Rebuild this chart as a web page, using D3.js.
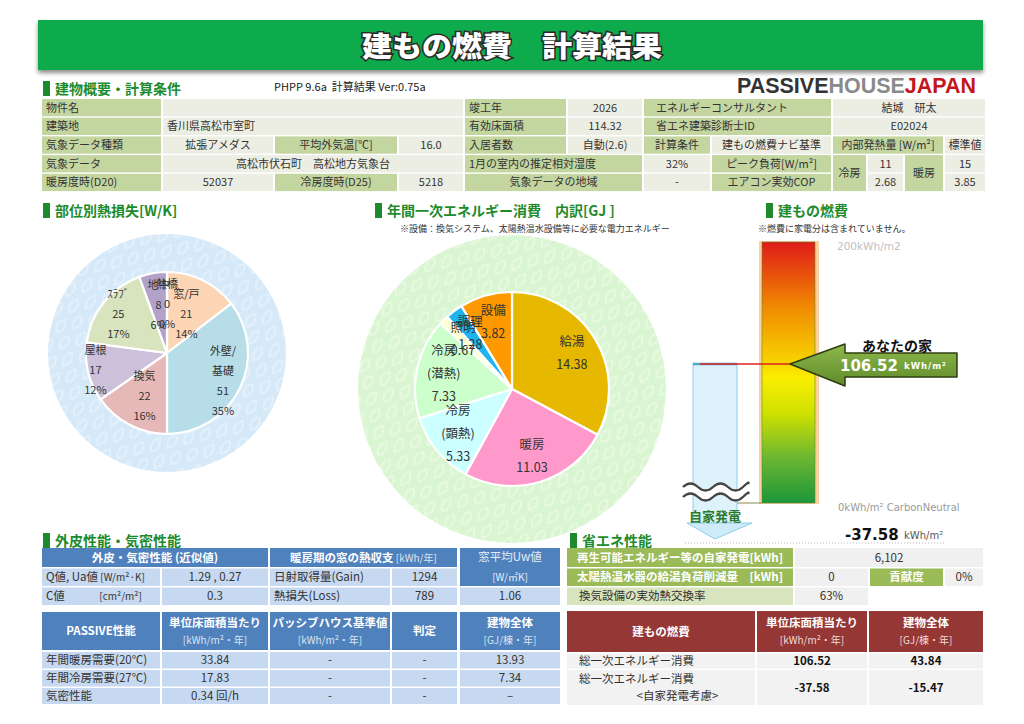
<!DOCTYPE html>
<html lang="ja">
<head>
<meta charset="utf-8">
<title>建もの燃費 計算結果</title>
<script src="https://cdn.jsdelivr.net/npm/d3@7"></script>
<style>
  body { margin: 0; background: #fff; }
  svg { display: block; font-family: "Noto Sans CJK JP", "Noto Sans", sans-serif; }
  text { white-space: pre; }
</style>
</head>
<body>
<svg id="chart" width="1024" height="724"></svg>
<script>
// ---- values ----
const lossNames = ["窓/戸", "外壁/\n基礎", "換気", "屋根", "ｽﾗﾌﾞ", "地中", "熱橋"];
const lossValues = [21, 51, 22, 17, 25, 8, 0];
const lossShares = ["14%", "35%", "16%", "12%", "17%", "6%", "0%"];

const energyNames = ["給湯", "暖房", "冷房\n(顕熱)", "冷房\n(潜熱)", "照明", "調理", "設備"];
const energyValues = [14.38, 11.03, 5.33, 7.33, 0.67, 1.28, 3.82];

const gaugeRange = [0, 200];
const houseValue = 106.52;
const netValue = -37.58;

const siteLeftText = [
  ["物件名", ""],
  ["建築地", "香川県高松市室町"],
  ["気象データ種類", "拡張アメダス", "平均外気温[℃]", "16.0"],
  ["気象データ", "高松市伏石町　高松地方気象台"],
  ["暖房度時(D20)", "52037", "冷房度時(D25)", "5218"]
];
const siteRightText = [
  ["竣工年", "2026", "エネルギーコンサルタント", "結城　研太"],
  ["有効床面積", "114.32", "省エネ建築診断士ID", "E02024"],
  ["入居者数", "自動(2.6)", "計算条件", "建もの燃費ナビ基準", "内部発熱量 [W/m²]", "標準値"],
  ["1月の室内の推定相対湿度", "32%", "ピーク負荷[W/m²]", "冷房", "11", "暖房", "15"],
  ["気象データの地域", "-", "エアコン実効COP", "2.68", "3.85"]
];
const shellText = [
  ["外皮・気密性能 (近似値)", "暖房期の窓の熱収支| [kWh/年]", "窓平均Uw値\n|[W/㎡K]"],
  ["Q値, Ua値| [W/m²·K]", "1.29 , 0.27", "日射取得量(Gain)", "1294"],
  ["C値|　　　  [cm²/m²]", "0.3", "熱損失(Loss)", "789", "1.06"]
];
const passiveText = [
  ["PASSIVE性能", "単位床面積当たり\n|[kWh/m²・年]", "パッシブハウス基準値\n|[kWh/m²・年]", "判定", "建物全体\n|[GJ/棟・年]"],
  ["年間暖房需要(20℃)", "33.84", "-", "-", "13.93"],
  ["年間冷房需要(27℃)", "17.83", "-", "-", "7.34"],
  ["気密性能", "0.34 回/h", "-", "-", "–"]
];
const saveText = [
  ["再生可能エネルギー等の自家発電[kWh]", "6,102"],
  ["太陽熱温水器の給湯負荷削減量　[kWh]", "0", "貢献度", "0%"],
  ["換気設備の実効熱交換率", "63%"]
];
const fuelText = [
  ["建もの燃費", "単位床面積当たり\n|[kWh/m²・年]", "建物全体\n|[GJ/棟・年]"],
  ["総一次エネルギー消費", "106.52", "43.84"],
  ["総一次エネルギー消費\n　　　　　<自家発電考慮>", "-37.58", "-15.47"]
];

// ---- styles ----
const lossColors = ["#fcd5b4", "#b7dee8", "#e6b9b8", "#ccc0da", "#d7e4bd", "#b3a2c7", "#93cddd"];
const lossLabelK = [0.54, 0.77, 0.6, 0.91, 0.77, 0.6, 0.6];
const energyColors = ["#e6b800", "#ff99cc", "#ccffff", "#ccffcc", "#ffffcc", "#1fb4ee", "#ff9900"];

const cellStyle = {
  g:  { fill: "#c4d6a0", color: "#333" },
  v:  { fill: "#eceee4", color: "#333" },
  bh: { fill: "#4f81bd", color: "#fff", bold: true, sub: "#dce6f2" },
  bu: { fill: "#4f81bd", color: "#e4ecf7", sub: "#e4ecf7" },
  b:  { fill: "#c6d9f1", color: "#333", sub: "#333" },
  gg: { fill: "#9bbb59", color: "#fff", bold: true },
  gl: { fill: "#d7e4bd", color: "#333" },
  gv: { fill: "#f0f0f0", color: "#333" },
  rh: { fill: "#953735", color: "#fff", bold: true, sub: "#f2dcdb" },
  rv: { fill: "#f2f2f2", color: "#333" },
  rb: { fill: "#f2f2f2", color: "#111", bold: true }
};

const svg = d3.select("#chart");
const defs = svg.append("defs");

// drop shadow for the title band
const sh = defs.append("filter").attr("id", "shadow").attr("x", "-5%").attr("y", "-20%").attr("width", "110%").attr("height", "160%");
sh.append("feDropShadow").attr("dx", 0).attr("dy", 3).attr("stdDeviation", 2).attr("flood-color", "#000").attr("flood-opacity", 0.45);

// leafy background patterns behind the pies
function leafPattern(id, base, light) {
  const p = defs.append("pattern").attr("id", id).attr("width", 17).attr("height", 17)
    .attr("patternUnits", "userSpaceOnUse").attr("patternTransform", "rotate(-12)");
  p.append("rect").attr("width", 17).attr("height", 17).attr("fill", base);
  p.append("path").attr("d", "M3,14 Q3,3 14,3 Q14,14 3,14Z")
    .attr("fill", "none").attr("stroke", light).attr("stroke-width", 1.6);
}
leafPattern("leafBlue", "#d5e9f8", "#e6f2fc");
leafPattern("leafGreen", "#daf5d1", "#eafae4");

// ---- title ----
svg.append("rect").attr("x", 38).attr("y", 20).attr("width", 945).attr("height", 50)
  .attr("fill", "#0aab4c").attr("filter", "url(#shadow)");
svg.append("text").attr("x", 512).attr("y", 57).attr("text-anchor", "middle")
  .attr("font-size", 28).attr("font-weight", 900).attr("fill", "#fff")
  .attr("stroke", "#2a2a2a").attr("stroke-width", 3).attr("paint-order", "stroke")
  .attr("textLength", 300).attr("lengthAdjust", "spacingAndGlyphs")
  .text("建もの燃費　計算結果");

function secHead(x, y, label) {
  svg.append("rect").attr("x", x).attr("y", y - 13).attr("width", 7).attr("height", 15).attr("fill", "#1d8b2d");
  svg.append("text").attr("x", x + 12).attr("y", y).attr("font-size", 14).attr("font-weight", "bold")
    .attr("fill", "#1d8b2d").text(label);
}

secHead(43, 94, "建物概要・計算条件");
svg.append("text").attr("x", 274).attr("y", 91).attr("font-size", 11).attr("fill", "#222")
  .text("PHPP 9.6a  計算結果 Ver:0.75a");

// logo
const logo = svg.append("text").attr("x", 737).attr("y", 93).attr("font-family", "'Liberation Sans', Arial, sans-serif")
  .attr("font-size", 22).attr("font-weight", "bold").attr("textLength", 239).attr("lengthAdjust", "spacingAndGlyphs");
logo.append("tspan").attr("fill", "#333").text("PASSIVE");
logo.append("tspan").attr("fill", "#8a8a8a").text("HOUSE");
logo.append("tspan").attr("fill", "#c4161c").text("JAPAN");

// ---- table helper ----
function drawTable(cols, rows, spec, texts, size) {
  const g = svg.append("g");
  spec.forEach((row, ri) => row.forEach((s, ci) => {
    const [c0, c1, key, align, rspan = 1, lh = 17] = s;
    const st = cellStyle[key];
    const x0 = cols[c0][0], x1 = cols[c1 - 1][1];
    const y0 = rows[ri][0], y1 = rows[ri + rspan - 1][1];
    g.append("rect").attr("x", x0).attr("y", y0).attr("width", x1 - x0).attr("height", y1 - y0).attr("fill", st.fill);
    const lines = String(texts[ri][ci]).split("\n");
    const tx = align === "c" ? (x0 + x1) / 2 : x0 + (align === "L" ? 12 : 4);
    const top = (y0 + y1) / 2 - (lines.length - 1) * lh / 2;
    const t = g.append("text").attr("text-anchor", align === "c" ? "middle" : "start")
      .attr("font-size", size).attr("fill", st.color);
    lines.forEach((ln, li) => {
      const line = t.append("tspan").attr("x", tx).attr("y", top + li * lh + size * 0.36);
      ln.split("|").forEach((part, pi) => {
        if (!part) return;
        const sp = line.append("tspan").text(part);
        if (pi % 2 === 0) sp.attr("font-weight", st.bold ? "bold" : "normal");
        else sp.attr("font-weight", "normal").attr("font-size", size - 1.5).attr("fill", st.sub || st.color);
      });
    });
  }));
}

// ---- building info tables ----
const infoRows = d3.range(5).map(i => [99 + i * 18.7, 99 + i * 18.7 + 17.3]);
drawTable([[42, 161], [163, 273], [275, 397], [399, 463]], infoRows, [
  [[0, 1, "g", "l"], [1, 4, "v", "l"]],
  [[0, 1, "g", "l"], [1, 4, "v", "l"]],
  [[0, 1, "g", "l"], [1, 2, "v", "c"], [2, 3, "g", "c"], [3, 4, "v", "c"]],
  [[0, 1, "g", "l"], [1, 4, "v", "c"]],
  [[0, 1, "g", "l"], [1, 2, "v", "c"], [2, 3, "g", "c"], [3, 4, "v", "c"]]
], siteLeftText, 11);

drawTable([[465, 566], [568, 642], [644, 710], [712, 831], [833, 866], [868, 903], [905, 943], [945, 985]], infoRows, [
  [[0, 1, "g", "l"], [1, 2, "v", "c"], [2, 4, "g", "L"], [4, 8, "v", "c"]],
  [[0, 1, "g", "l"], [1, 2, "v", "c"], [2, 4, "g", "L"], [4, 8, "v", "c"]],
  [[0, 1, "g", "l"], [1, 2, "v", "c"], [2, 3, "g", "c"], [3, 4, "v", "c"], [4, 7, "g", "c"], [7, 8, "v", "c"]],
  [[0, 2, "g", "l"], [2, 3, "v", "c"], [3, 4, "g", "c"], [4, 5, "g", "c", 2], [5, 6, "v", "c"], [6, 7, "g", "c", 2], [7, 8, "v", "c"]],
  [[0, 2, "g", "c"], [2, 3, "v", "c"], [3, 4, "g", "c"], [5, 6, "v", "c"], [7, 8, "v", "c"]]
], siteRightText, 11);

// ---- section 2 headings ----
secHead(43, 216, "部位別熱損失[W/K]");
secHead(375, 216, "年間一次エネルギー消費　内訳[GJ ]");
svg.append("text").attr("x", 400).attr("y", 232).attr("font-size", 9).attr("fill", "#333")
  .text("※設備：換気システム、太陽熱温水設備等に必要な電力エネルギー");
secHead(766, 216, "建もの燃費");
svg.append("text").attr("x", 758).attr("y", 232).attr("font-size", 9).attr("fill", "#333")
  .text("※燃費に家電分は含まれていません。");

// ---- pies ----
function drawPie(cx, cy, r, bgR, bgFill, values, colors, linesFor, kFor, step, size) {
  svg.append("circle").attr("cx", cx).attr("cy", cy).attr("r", bgR).attr("fill", bgFill);
  const g = svg.append("g").attr("transform", `translate(${cx},${cy})`);
  const arcs = d3.pie().sort(null).value(d => d)(values);
  const arc = d3.arc().innerRadius(0).outerRadius(r);
  g.selectAll("path").data(arcs).join("path")
    .attr("d", arc).attr("fill", (d, i) => colors[i])
    .attr("stroke", "#fff").attr("stroke-width", 2.2).attr("stroke-linejoin", "round");
  arcs.forEach((a, i) => {
    const mid = (a.startAngle + a.endAngle) / 2;
    const R = r * kFor(i);
    const x = R * Math.sin(mid), y = -R * Math.cos(mid);
    const lines = linesFor(i);
    const t = g.append("text").attr("text-anchor", "middle").attr("font-size", size).attr("fill", "#333");
    const y0 = y - (lines.length - 1) * step / 2 + size * 0.36;
    lines.forEach((ln, li) => t.append("tspan").attr("x", x).attr("y", y0 + li * step).text(ln));
  });
}

drawPie(167, 353, 81, 119, "url(#leafBlue)", lossValues, lossColors,
  i => lossNames[i].split("\n").concat([String(lossValues[i]), lossShares[i]]),
  i => lossLabelK[i], 20, 11);

drawPie(512, 389, 97, 154, "url(#leafGreen)", energyValues, energyColors,
  i => energyNames[i].split("\n").concat([energyValues[i].toFixed(2)]),
  () => 0.72, 23, 12.5);

// ---- fuel gauge ----
const yG = d3.scaleLinear().domain(gaugeRange).range([503, 242]);
const yH = yG(houseValue);

const gg = defs.append("linearGradient").attr("id", "gaugeGrad").attr("x1", 0).attr("y1", 0).attr("x2", 0).attr("y2", 1);
[["0%", "#e01a1a"], ["25%", "#f08a00"], ["45%", "#f7d000"], ["52%", "#fbee00"], ["66%", "#cde000"], ["82%", "#6fb830"], ["100%", "#1c963a"]]
  .forEach(([o, c]) => gg.append("stop").attr("offset", o).attr("stop-color", c));

const ag = defs.append("linearGradient").attr("id", "arrowGrad").attr("x1", 0).attr("y1", 0).attr("x2", 0).attr("y2", 1);
ag.append("stop").attr("offset", "0%").attr("stop-color", "#8fb94c");
ag.append("stop").attr("offset", "100%").attr("stop-color", "#5e8a2a");

svg.append("rect").attr("x", 759).attr("y", yG(gaugeRange[1]) - 1).attr("width", 60)
  .attr("height", yG(gaugeRange[0]) - yG(gaugeRange[1]) + 2).attr("fill", "#fbd19c");
svg.append("rect").attr("x", 762).attr("y", yG(gaugeRange[1])).attr("width", 53)
  .attr("height", yG(gaugeRange[0]) - yG(gaugeRange[1])).attr("fill", "url(#gaugeGrad)")
  .attr("stroke", "#5c8a3a").attr("stroke-width", 0.6);

svg.append("text").attr("x", 837).attr("y", yG(gaugeRange[1]) + 8).attr("font-size", 10.5).attr("fill", "#c0c0c0")
  .attr("font-family", "'DejaVu Sans', sans-serif").text(gaugeRange[1] + "kWh/m2");
svg.append("text").attr("x", 838).attr("y", yG(gaugeRange[0]) + 8).attr("font-size", 10).attr("fill", "#999")
  .attr("font-family", "'DejaVu Sans', sans-serif").text(gaugeRange[0] + "kWh/m² CarbonNeutral");

// own generation column (drawn downward from your house line)
svg.append("rect").attr("x", 693).attr("y", yH).attr("width", 44).attr("height", 523 - yH)
  .attr("fill", "#ddf2fb").attr("stroke", "#8dcde8").attr("stroke-width", 1);
svg.append("line").attr("x1", 737).attr("x2", 762).attr("y1", yG(0)).attr("y2", yG(0))
  .attr("stroke", "#8a8a50").attr("stroke-width", 1);
svg.append("line").attr("x1", 693).attr("x2", 737).attr("y1", yH).attr("y2", yH)
  .attr("stroke", "#4bacc6").attr("stroke-width", 2.5);

function wave(y) {
  return `M683,${y} Q690.5,${y - 7} 698,${y} T713,${y} T728,${y} T743,${y} T748,${y - 3}`;
}
svg.append("path").attr("d", wave(492)).attr("fill", "none").attr("stroke", "#fff").attr("stroke-width", 9);
[487, 497].forEach(y => svg.append("path").attr("d", wave(y)).attr("fill", "none")
  .attr("stroke", "#444").attr("stroke-width", 2.2));

svg.append("polygon").attr("points", "687,523 752,523 715,539")
  .attr("fill", "#cdebf8").attr("stroke", "#8dcde8");
svg.append("text").attr("x", 715).attr("y", 521).attr("text-anchor", "middle")
  .attr("font-size", 13).attr("font-weight", "bold").attr("fill", "#2b7a2b").text("自家発電");

svg.append("line").attr("x1", 700).attr("x2", 792).attr("y1", yH).attr("y2", yH)
  .attr("stroke", "#e02020").attr("stroke-width", 1.6);

// "your house" arrow
const arrowPts = [[790, 0], [845, -20], [845, -11], [957, -11], [957, 13], [845, 13], [845, 22]];
svg.append("polygon").attr("points", arrowPts.map(p => [p[0], yH + p[1]].join(",")).join(" "))
  .attr("fill", "url(#arrowGrad)").attr("stroke", "#2f3f10").attr("stroke-width", 1.5)
  .attr("stroke-linejoin", "round");
svg.append("text").attr("x", 897).attr("y", yH - 13).attr("text-anchor", "middle")
  .attr("font-size", 14).attr("font-weight", "bold").attr("fill", "#111").text("あなたの家");
svg.append("text").attr("x", 840).attr("y", yH + 7).attr("font-family", "'DejaVu Sans', sans-serif")
  .attr("font-size", 15).attr("font-weight", "bold").attr("fill", "#fff").text(houseValue.toFixed(2));
svg.append("text").attr("x", 904).attr("y", yH + 5).attr("font-family", "'DejaVu Sans', sans-serif")
  .attr("font-size", 8.5).attr("font-weight", "bold").attr("fill", "#fff").attr("letter-spacing", 1).text("kWh/m²");

// net figure
svg.append("line").attr("x1", 685).attr("x2", 945).attr("y1", 543).attr("y2", 543)
  .attr("stroke", "#bbb").attr("stroke-dasharray", "1,2");
svg.append("text").attr("x", 845).attr("y", 540).attr("font-family", "'DejaVu Sans', sans-serif")
  .attr("font-size", 15).attr("font-weight", "bold").attr("fill", "#111").text(netValue.toFixed(2));
svg.append("text").attr("x", 904).attr("y", 539).attr("font-family", "'DejaVu Sans', sans-serif")
  .attr("font-size", 10).attr("fill", "#555").text("kWh/m²");

// ---- bottom tables ----
secHead(43, 546, "外皮性能・気密性能");
secHead(570, 546, "省エネ性能");

const blueCols = [[42, 160], [162, 268], [270, 390], [392, 457], [460, 560]];
drawTable(blueCols, [[548, 567], [568.5, 586], [587.5, 605]], [
  [[0, 2, "bh", "c"], [2, 4, "bh", "c"], [4, 5, "bu", "c", 2, 20]],
  [[0, 1, "b", "l"], [1, 2, "b", "c"], [2, 3, "b", "l"], [3, 4, "b", "c"]],
  [[0, 1, "b", "l"], [1, 2, "b", "c"], [2, 3, "b", "l"], [3, 4, "b", "c"], [4, 5, "b", "c"]]
], shellText, 11.5);

drawTable(blueCols, [[612, 650], [652, 668.5], [670, 686.5], [688, 704]], [
  [[0, 1, "bh", "c"], [1, 2, "bh", "c"], [2, 3, "bh", "c"], [3, 4, "bh", "c"], [4, 5, "bh", "c"]],
  [[0, 1, "b", "l"], [1, 2, "b", "c"], [2, 3, "b", "c"], [3, 4, "b", "c"], [4, 5, "b", "c"]],
  [[0, 1, "b", "l"], [1, 2, "b", "c"], [2, 3, "b", "c"], [3, 4, "b", "c"], [4, 5, "b", "c"]],
  [[0, 1, "b", "l"], [1, 2, "b", "c"], [2, 3, "b", "c"], [3, 4, "b", "c"], [4, 5, "b", "c"]]
], passiveText, 11.5);

drawTable([[567, 793], [795, 868], [870, 943], [945, 983]], [[548, 567], [568.5, 586], [587.5, 605]], [
  [[0, 1, "gg", "c"], [1, 4, "gv", "c"]],
  [[0, 1, "gg", "c"], [1, 2, "gv", "c"], [2, 3, "gg", "c"], [3, 4, "gv", "c"]],
  [[0, 1, "gl", "L"], [1, 2, "gv", "c"]]
], saveText, 11.5);

drawTable([[567, 755], [757, 867], [869, 983]], [[611, 652], [653.5, 668.5], [670, 705]], [
  [[0, 1, "rh", "c"], [1, 2, "rh", "c"], [2, 3, "rh", "c"]],
  [[0, 1, "rv", "L"], [1, 2, "rb", "c"], [2, 3, "rb", "c"]],
  [[0, 1, "rv", "L"], [1, 2, "rb", "c"], [2, 3, "rb", "c"]]
], fuelText, 11.5);
</script>
</body>
</html>
